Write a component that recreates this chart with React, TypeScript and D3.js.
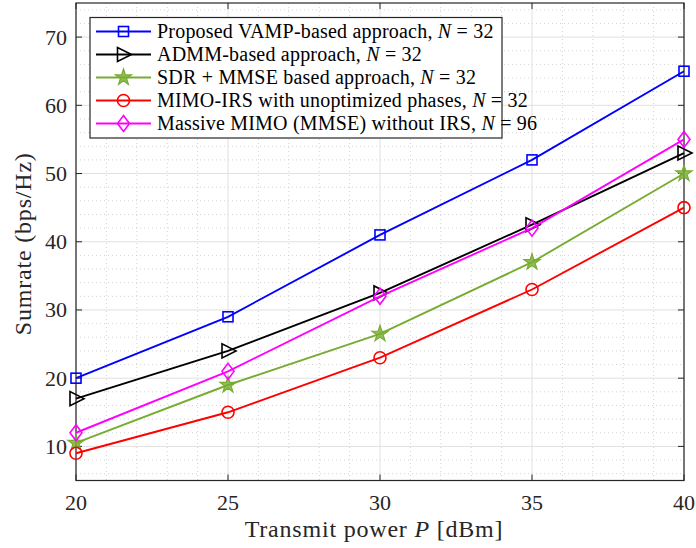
import React, { useEffect, useRef } from "react";
import * as d3 from "d3";

const powers = [20, 25, 30, 35, 40];
const vamp = [20, 29, 41, 52, 65];
const admm = [17, 24, 32.5, 42.5, 53];
const sdr = [10.5, 19, 26.5, 37, 50];
const unopt = [9, 15, 23, 33, 45];
const massive = [12, 21, 32, 42, 55];

const seriesNames = [
  "Proposed VAMP-based approach, ",
  "ADMM-based approach, ",
  "SDR + MMSE based approach, ",
  "MIMO-IRS with unoptimized phases, ",
  "Massive MIMO (MMSE) without IRS, ",
];
const seriesN = ["32", "32", "32", "32", "96"];
const seriesColors = ["#0000ff", "#000000", "#77ac30", "#ff0000", "#ff00ff"];
const seriesMarkers = ["square", "triangle", "star", "circle", "diamond"];
const seriesValues = [vamp, admm, sdr, unopt, massive];

const xTicks = [20, 25, 30, 35, 40];
const yTicks = [10, 20, 30, 40, 50, 60, 70];

const FONT = "'Liberation Serif', 'DejaVu Serif', serif";

function drawMarker(g: any, kind: string, x: number, y: number, color: string) {
  const common = (s: any) =>
    s.attr("fill", "none").attr("stroke", color).attr("stroke-width", 1.6);
  if (kind === "square") {
    common(g.append("rect").attr("x", x - 5).attr("y", y - 5).attr("width", 10).attr("height", 10));
  } else if (kind === "circle") {
    common(g.append("circle").attr("cx", x).attr("cy", y).attr("r", 6));
  } else if (kind === "diamond") {
    common(g.append("path").attr("d", `M${x},${y - 8}L${x + 6},${y}L${x},${y + 8}L${x - 6},${y}Z`));
  } else if (kind === "triangle") {
    common(g.append("path").attr("d", `M${x + 8},${y}L${x - 6},${y - 7}L${x - 6},${y + 7}Z`));
  } else if (kind === "star") {
    const star = d3.symbol(d3.symbolStar, 80)();
    g.append("path")
      .attr("d", star)
      .attr("transform", `translate(${x},${y})`)
      .attr("fill", color)
      .attr("fill-opacity", 0.8)
      .attr("stroke", color)
      .attr("stroke-width", 1.2);
  }
}

export default function App() {
  const ref = useRef<SVGSVGElement>(null);

  useEffect(() => {
    const svg = d3.select(ref.current);
    svg.selectAll("*").remove();

    const left = 76, right = 684, top = 3, bottom = 480.5;
    const x = d3.scaleLinear().domain([20, 40]).range([left, right]);
    const y = d3.scaleLinear().domain([5, 75]).range([bottom, top]);

    svg.append("rect").attr("width", 696).attr("height", 548).attr("fill", "#fff");

    // minor grid
    const grid = svg.append("g");
    d3.range(21, 40, 1).filter((v) => v % 5 !== 0).forEach((v) => {
      grid.append("line")
        .attr("x1", x(v)).attr("x2", x(v)).attr("y1", top).attr("y2", bottom)
        .attr("stroke", "#c8c8c8").attr("stroke-width", 0.8).attr("stroke-dasharray", "1,3");
    });
    d3.range(6, 75, 2).filter((v) => v % 10 !== 0).forEach((v) => {
      grid.append("line")
        .attr("x1", left).attr("x2", right).attr("y1", y(v)).attr("y2", y(v))
        .attr("stroke", "#c8c8c8").attr("stroke-width", 0.8).attr("stroke-dasharray", "1,3");
    });
    // major grid
    xTicks.forEach((v) => {
      grid.append("line")
        .attr("x1", x(v)).attr("x2", x(v)).attr("y1", top).attr("y2", bottom)
        .attr("stroke", "#e0e0e0").attr("stroke-width", 1);
    });
    yTicks.forEach((v) => {
      grid.append("line")
        .attr("x1", left).attr("x2", right).attr("y1", y(v)).attr("y2", y(v))
        .attr("stroke", "#e0e0e0").attr("stroke-width", 1);
    });

    // axes box with ticks
    const axisColor = "#262626";
    svg.append("rect")
      .attr("x", left).attr("y", top).attr("width", right - left).attr("height", bottom - top)
      .attr("fill", "none").attr("stroke", axisColor).attr("stroke-width", 1.2);
    const tl = 6;
    xTicks.forEach((v) => {
      svg.append("line").attr("x1", x(v)).attr("x2", x(v)).attr("y1", bottom).attr("y2", bottom - tl).attr("stroke", axisColor);
      svg.append("line").attr("x1", x(v)).attr("x2", x(v)).attr("y1", top).attr("y2", top + tl).attr("stroke", axisColor);
      svg.append("text")
        .attr("x", x(v)).attr("y", 510).attr("text-anchor", "middle")
        .attr("font-family", FONT).attr("font-size", 22).attr("fill", axisColor)
        .text(v);
    });
    yTicks.forEach((v) => {
      svg.append("line").attr("x1", left).attr("x2", left + tl).attr("y1", y(v)).attr("y2", y(v)).attr("stroke", axisColor);
      svg.append("line").attr("x1", right).attr("x2", right - tl).attr("y1", y(v)).attr("y2", y(v)).attr("stroke", axisColor);
      svg.append("text")
        .attr("x", 67).attr("y", y(v) + 7.5).attr("text-anchor", "end")
        .attr("font-family", FONT).attr("font-size", 22).attr("fill", axisColor)
        .text(v);
    });

    // axis labels
    const xl = svg.append("text")
      .attr("x", (left + right) / 2 - 6).attr("y", 537).attr("text-anchor", "middle")
      .attr("font-family", FONT).attr("font-size", 24).attr("letter-spacing", 0.8)
      .attr("fill", axisColor);
    xl.append("tspan").text("Transmit power ");
    xl.append("tspan").attr("font-style", "italic").text("P");
    xl.append("tspan").text(" [dBm]");

    svg.append("text")
      .attr("transform", `translate(31,${(top + bottom) / 2 + 2}) rotate(-90)`)
      .attr("text-anchor", "middle")
      .attr("font-family", FONT).attr("font-size", 24).attr("letter-spacing", 0.8)
      .attr("fill", axisColor)
      .text("Sumrate (bps/Hz)");

    // series
    const line = d3.line<number>().x((_, i) => x(powers[i])).y((d) => y(d));
    seriesValues.forEach((vals, k) => {
      const g = svg.append("g");
      g.append("path").attr("d", line(vals)).attr("fill", "none")
        .attr("stroke", seriesColors[k]).attr("stroke-width", 1.9);
      vals.forEach((v, i) => drawMarker(g, seriesMarkers[k], x(powers[i]), y(v), seriesColors[k]));
    });

    // legend
    const lg = svg.append("g");
    lg.append("rect").attr("x", 90).attr("y", 17.5).attr("width", 412).attr("height", 120.5)
      .attr("fill", "#fff").attr("stroke", axisColor).attr("stroke-width", 1.2);
    seriesNames.forEach((name, k) => {
      const cy = 31.5 + k * 23;
      lg.append("line").attr("x1", 96).attr("x2", 151).attr("y1", cy).attr("y2", cy)
        .attr("stroke", seriesColors[k]).attr("stroke-width", 1.9);
      drawMarker(lg, seriesMarkers[k], 123.5, cy, seriesColors[k]);
      const t = lg.append("text").attr("x", 157).attr("y", cy + 6.5)
        .attr("font-family", FONT).attr("font-size", 20).attr("letter-spacing", 0.2)
        .attr("fill", "#000");
      t.append("tspan").text(name);
      t.append("tspan").attr("font-style", "italic").text("N");
      t.append("tspan").text(" = " + seriesN[k]);
    });
  }, []);

  return (
    <svg
      ref={ref}
      width={696}
      height={548}
      style={{ position: "absolute", left: 0, top: 0, display: "block" }}
    />
  );
}
